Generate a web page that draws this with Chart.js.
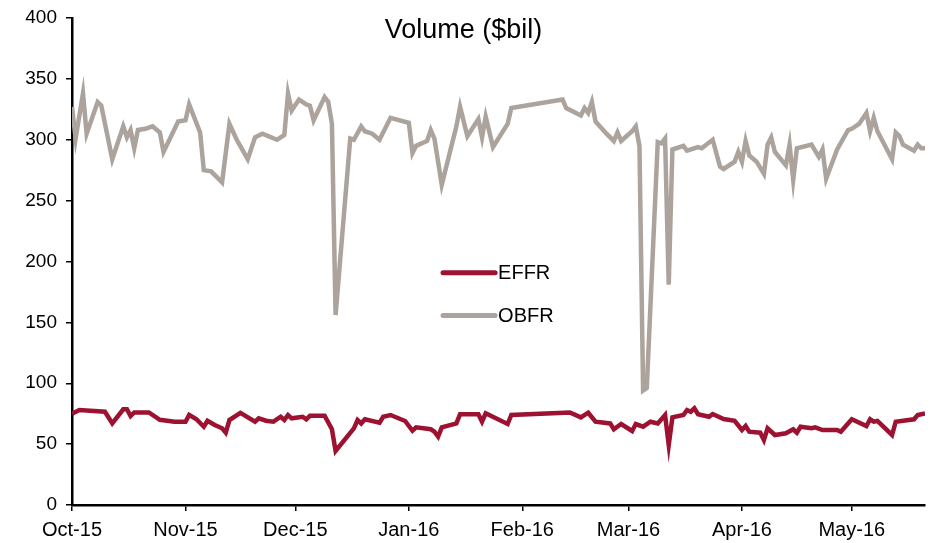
<!DOCTYPE html>
<html>
<head>
<meta charset="utf-8">
<script src="https://cdn.jsdelivr.net/npm/chart.js@4.4.1/dist/chart.umd.min.js"></script>
<style>
html,body{margin:0;padding:0;background:#fff;}
#c{display:block;}
</style>
</head>
<body>
<canvas id="c" width="934" height="543"></canvas>
<script>
// ---- data ----
const chartTitle = 'Volume ($bil)';
const seriesNames = ['EFFR', 'OBFR'];
const tickDates = ['2015-10-01','2015-11-01','2015-12-01','2016-01-01','2016-02-01','2016-03-01','2016-04-01','2016-05-01'];
const tickLabels = ['Oct-15','Nov-15','Dec-15','Jan-16','Feb-16','Mar-16','Apr-16','May-16'];
const yTicks = [0,50,100,150,200,250,300,350,400];

const obfrDates = ['2015-10-01','2015-10-02','2015-10-04','2015-10-05','2015-10-08','2015-10-09','2015-10-12','2015-10-15','2015-10-16','2015-10-17',
 '2015-10-18','2015-10-19','2015-10-21','2015-10-23','2015-10-25','2015-10-26','2015-10-30','2015-11-01','2015-11-02','2015-11-05',
 '2015-11-06','2015-11-08','2015-11-11','2015-11-13','2015-11-15','2015-11-18','2015-11-20','2015-11-22','2015-11-26','2015-11-28',
 '2015-11-29','2015-11-30','2015-12-02','2015-12-04','2015-12-05','2015-12-06','2015-12-09','2015-12-10','2015-12-11','2015-12-12',
 '2015-12-16','2015-12-17','2015-12-19','2015-12-20','2015-12-22','2015-12-24','2015-12-27','2016-01-01','2016-01-02','2016-01-03',
 '2016-01-06','2016-01-07','2016-01-08','2016-01-10','2016-01-14','2016-01-15','2016-01-17','2016-01-20','2016-01-21','2016-01-22',
 '2016-01-24','2016-01-28','2016-01-29','2016-02-12','2016-02-13','2016-02-17','2016-02-18','2016-02-19','2016-02-20','2016-02-21',
 '2016-02-24','2016-02-26','2016-02-27','2016-02-28','2016-03-02','2016-03-03','2016-03-04','2016-03-05','2016-03-06','2016-03-09',
 '2016-03-10','2016-03-11','2016-03-12','2016-03-13','2016-03-16','2016-03-17','2016-03-20','2016-03-21','2016-03-24','2016-03-26',
 '2016-03-27','2016-03-30','2016-03-31','2016-04-01','2016-04-02','2016-04-03','2016-04-05','2016-04-07','2016-04-08','2016-04-09',
 '2016-04-10','2016-04-13','2016-04-14','2016-04-15','2016-04-16','2016-04-20','2016-04-22','2016-04-23','2016-04-24','2016-04-27',
 '2016-04-30','2016-05-01','2016-05-03','2016-05-05','2016-05-06','2016-05-07','2016-05-08','2016-05-12','2016-05-13','2016-05-14',
 '2016-05-15','2016-05-18','2016-05-19','2016-05-20','2016-05-21'];
const obfrValues = [327,301,338,305,331,328,284,311,302,308,
 293,308,309,311,306,290,315,316,329,306,
 275,274,265,313,300,284,302,305,300,304,
 338,324,333,329,328,316,335,331,313,156,
 301,300,311,307,305,300,318,314,289,295,
 299,308,301,263,311,327,303,317,302,319,
 294,313,326,333,326,320,326,322,331,315,
 305,299,306,299,307,311,295,94,96,298,
 297,301,181,292,295,291,294,293,300,278,
 276,282,290,282,299,287,282,272,296,302,
 290,279,296,267,293,296,286,292,268,292,
 308,309,313,322,307,318,307,284,306,303,
 296,291,296,293,293];

const effrDates = ['2015-10-01','2015-10-03','2015-10-10','2015-10-12','2015-10-15','2015-10-16','2015-10-17','2015-10-18','2015-10-22','2015-10-25',
 '2015-10-29','2015-11-01','2015-11-02','2015-11-04','2015-11-06','2015-11-07','2015-11-09','2015-11-11','2015-11-12','2015-11-13',
 '2015-11-16','2015-11-20','2015-11-21','2015-11-23','2015-11-25','2015-11-27','2015-11-28','2015-11-29','2015-11-30','2015-12-03',
 '2015-12-04','2015-12-05','2015-12-09','2015-12-11','2015-12-12','2015-12-17','2015-12-18','2015-12-19','2015-12-20','2015-12-24',
 '2015-12-25','2015-12-27','2015-12-31','2016-01-02','2016-01-03','2016-01-07','2016-01-08','2016-01-09','2016-01-10','2016-01-14',
 '2016-01-15','2016-01-20','2016-01-21','2016-01-22','2016-01-28','2016-01-29','2016-02-14','2016-02-17','2016-02-19','2016-02-21',
 '2016-02-25','2016-02-26','2016-02-28','2016-03-02','2016-03-03','2016-03-05','2016-03-07','2016-03-09','2016-03-11','2016-03-12',
 '2016-03-13','2016-03-16','2016-03-17','2016-03-18','2016-03-19','2016-03-20','2016-03-23','2016-03-24','2016-03-27','2016-03-30',
 '2016-04-01','2016-04-02','2016-04-03','2016-04-06','2016-04-07','2016-04-08','2016-04-10','2016-04-13','2016-04-15','2016-04-16',
 '2016-04-17','2016-04-20','2016-04-21','2016-04-23','2016-04-27','2016-04-28','2016-05-01','2016-05-05','2016-05-06','2016-05-07',
 '2016-05-08','2016-05-12','2016-05-13','2016-05-15','2016-05-18','2016-05-19','2016-05-21'];
const effrValues = [75,78,76.6,67,78.6,78.6,73,76,76,70,
 68.4,68.4,74,70.4,64.3,69.2,65.7,63,59.4,69.8,
 75.7,68.4,71.2,69.2,68.4,72.5,69.8,73.9,71.2,72.5,
 70.4,73.3,73.3,62.2,44.4,63,69.8,67,70.4,67.6,
 72.5,73.9,69,61,63.8,62.2,60.2,56.1,63.8,67,
 74.5,74.5,68.4,75.3,66.5,73.9,76,72,75.8,68.4,
 67,62.2,66.5,60.8,66.5,64.3,68.4,67,73.9,49.3,
 72,73.9,78,76.6,79.4,74.5,72.5,74.7,70.6,69.2,
 61.6,64.9,60.2,59.4,53.4,63,57.5,58.9,62.2,59.4,
 64.3,63,63.8,61.6,61.6,60.2,70.4,64.9,70.4,68.4,
 69,57.5,68.4,69.2,70.4,73.9,75.3];

// ---- helpers ----
const BASE = Date.UTC(2015, 9, 1);
function dayOf(s){ const p = s.split('-'); return (Date.UTC(+p[0], +p[1]-1, +p[2]) - BASE) / 864e5; }
function toPoints(dates, vals){ return dates.map((d,i)=>({x: dayOf(d), y: vals[i]})); }

const EFFR_COLOR = '#9c1230';
const OBFR_COLOR = '#aba39c';
const FONT = "'Liberation Sans', Arial, sans-serif";

const overlayPlugin = {
  id: 'overlay',
  afterDraw(chart){
    const ctx = chart.ctx, a = chart.chartArea;
    const w = a.right - a.left, h = a.bottom - a.top;
    ctx.save();
    // title
    ctx.fillStyle = '#000';
    ctx.font = '27px ' + FONT;
    ctx.textAlign = 'center';
    ctx.textBaseline = 'middle';
    ctx.fillText(chartTitle, a.left + w*0.459, a.top + h*0.026);
    // legend
    ctx.textAlign = 'left';
    ctx.font = '20px ' + FONT;
    const lx0 = a.left + w*0.435, lx1 = a.left + w*0.496;
    const ys = [a.top + h*0.523, a.top + h*0.611];
    chart.data.datasets.forEach((ds, i) => {
      ctx.strokeStyle = ds.borderColor;
      ctx.lineWidth = 5;
      ctx.lineCap = 'round';
      ctx.beginPath(); ctx.moveTo(lx0, ys[i]); ctx.lineTo(lx1, ys[i]); ctx.stroke();
      ctx.fillStyle = '#000';
      ctx.fillText(ds.label, lx1 + 3, ys[i] + 1);
    });
    ctx.restore();
  }
};

new Chart(document.getElementById('c'), {
  type: 'line',
  data: {
    datasets: [
      { label: seriesNames[0], data: toPoints(effrDates, effrValues), borderColor: EFFR_COLOR, borderWidth: 4.5, pointRadius: 0, tension: 0, fill: false },
      { label: seriesNames[1], data: toPoints(obfrDates, obfrValues), borderColor: OBFR_COLOR, borderWidth: 4.5, pointRadius: 0, tension: 0, fill: false }
    ]
  },
  options: {
    responsive: false,
    animation: false,
    devicePixelRatio: 1,
    layout: { padding: { top: 18, right: 9, left: 0, bottom: 0 } },
    plugins: { legend: { display: false }, title: { display: false }, tooltip: { enabled: false } },
    scales: {
      x: {
        type: 'linear',
        min: 0,
        max: dayOf('2016-05-21'),
        afterBuildTicks(scale){ scale.ticks = tickDates.map(d => ({ value: dayOf(d) })); },
        afterFit(scale){ scale.height = 38; },
        ticks: {
          autoSkip: false, maxRotation: 0, minRotation: 0,
          color: '#000', font: { family: FONT, size: 20 }, padding: 7,
          callback: (v, i) => tickLabels[i]
        },
        grid: { display: true, drawOnChartArea: false, drawTicks: true, tickLength: 6, color: '#000', lineWidth: 1.5 },
        border: { display: true, color: '#000', width: 2.5 }
      },
      y: {
        min: 0, max: 400,
        afterBuildTicks(scale){ scale.ticks = yTicks.map(v => ({ value: v })); },
        afterFit(scale){ scale.width = 72; scale.paddingTop = 0; scale.paddingBottom = 0; },
        ticks: { color: '#000', font: { family: FONT, size: 19 }, padding: 9 },
        grid: { display: true, drawOnChartArea: false, drawTicks: true, tickLength: 6, color: '#000', lineWidth: 1.5 },
        border: { display: true, color: '#000', width: 2.5 }
      }
    }
  },
  plugins: [overlayPlugin]
});
</script>
</body>
</html>
